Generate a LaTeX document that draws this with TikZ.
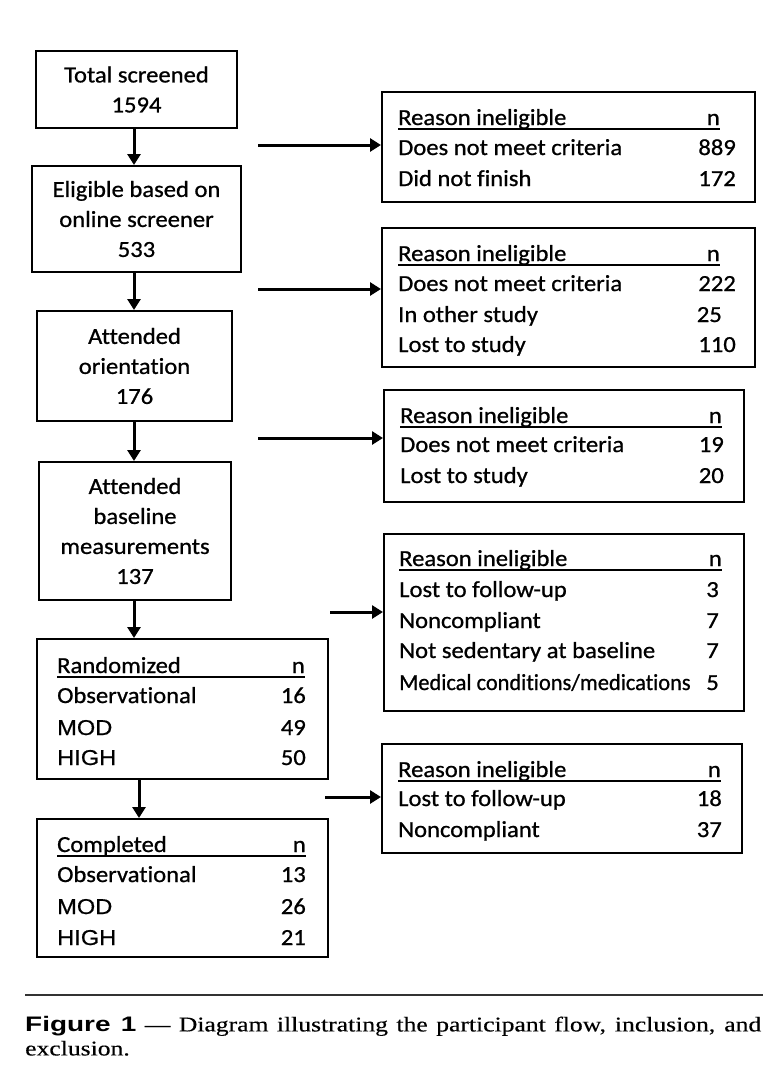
\documentclass[tikz,border=0pt]{standalone}
\usepackage{fontspec}
\setmainfont[FakeStretch=1.07,FakeBold=0.8,Ligatures={NoCommon}]{Carlito}
\newfontfamily\arialf[FakeStretch=1.1,FakeBold=0.6]{Liberation Sans}
\newfontfamily\capsans[FakeStretch=1.33]{Liberation Sans}
\newfontfamily\capserif[FakeStretch=1.22,FakeBold=0.3]{Liberation Serif}
\usetikzlibrary{arrows.meta}
\begin{document}
\begin{tikzpicture}[x=1pt,y=-1pt,
  box/.style={draw,line width=2pt,inner sep=0pt},
  arr/.style={line width=3pt,-{Triangle[width=13pt,length=11pt]}},
  t/.style={inner sep=0pt,font=\fontsize{23}{30}\selectfont},
  tl/.style={t,anchor=base west},
  tr/.style={t,anchor=base east},
  ta/.style={inner sep=0pt,anchor=base west,font=\arialf\fontsize{21.5}{30}\selectfont},
  ul/.style={line width=1.6pt}]
\useasboundingbox (0,0) rectangle (782,1074);

% left column
\node[box,t,align=center,minimum width=201pt,minimum height=77pt] (b1) at (136.5,89.5) {Total screened\\1594};
\node[box,t,align=center,minimum width=209pt,minimum height=106pt] (b2) at (136.5,219) {Eligible based on\\online screener\\533};
\node[box,t,align=center,minimum width=195pt,minimum height=110pt] (b3) at (134.5,366) {Attended\\orientation\\176};
\node[box,t,align=center,minimum width=192pt,minimum height=138pt] (b4) at (135,531) {Attended\\baseline\\measurements\\137};
\node[box,minimum width=291pt,minimum height=140pt] (b5) at (182.5,709) {};
\node[box,minimum width=291pt,minimum height=138pt] (b6) at (182.5,888) {};

% right column
\node[box,minimum width=373pt,minimum height=110pt] (rb1) at (568.5,147) {};
\node[box,minimum width=373pt,minimum height=139pt] (rb2) at (568.5,297.5) {};
\node[box,minimum width=360pt,minimum height=112pt] (rb3) at (564,446) {};
\node[box,minimum width=360pt,minimum height=177pt] (rb4) at (564,622.5) {};
\node[box,minimum width=360pt,minimum height=109pt] (rb5) at (562,798.5) {};

% randomized table
\node[tl] (b5h) at (57,673) {Randomized};
\node[tr] (b5n) at (305,673) {n};
\draw[ul] ([yshift=-4pt]b5h.base west) -- ([yshift=-4pt]b5n.base east);
\node[tl] (b5a) at (57,703) {Observational};
\node[tr] (b5an) at (306,703) {16};
\node[ta] (b5b) at (57,735) {MOD};
\node[tr] (b5bn) at (306,735) {49};
\node[ta] (b5c) at (57,765) {HIGH};
\node[tr] (b5cn) at (306,765) {50};

% completed table
\node[tl] (b6h) at (57,852) {Completed};
\node[tr] (b6n) at (306,852) {n};
\draw[ul] ([yshift=-4pt]b6h.base west) -- ([yshift=-4pt]b6n.base east);
\node[tl] (b6a) at (57,882) {Observational};
\node[tr] (b6an) at (306,882) {13};
\node[ta] (b6b) at (57,914) {MOD};
\node[tr] (b6bn) at (306,914) {26};
\node[ta] (b6c) at (57,945) {HIGH};
\node[tr] (b6cn) at (306,945) {21};

% rb1
\node[tl] (r1h) at (398,125) {Reason ineligible};
\node[tr] (r1n) at (720,125) {n};
\draw[ul] ([yshift=-4pt]r1h.base west) -- ([yshift=-4pt]r1n.base east);
\node[tl] (r1a) at (398,155) {Does not meet criteria};
\node[tr] (r1an) at (736,155) {889};
\node[tl] (r1b) at (398,186) {Did not finish};
\node[tr] (r1bn) at (736,186) {172};

% rb2
\node[tl] (r2h) at (398,261) {Reason ineligible};
\node[tr] (r2n) at (720,261) {n};
\draw[ul] ([yshift=-4pt]r2h.base west) -- ([yshift=-4pt]r2n.base east);
\node[tl] (r2a) at (398,291) {Does not meet criteria};
\node[tr] (r2an) at (736,291) {222};
\node[tl] (r2b) at (398,322) {In other study};
\node[tr] (r2bn) at (722,322) {25};
\node[tl] (r2c) at (398,352) {Lost to study};
\node[tr] (r2cn) at (736,352) {110};

% rb3
\node[tl] (r3h) at (400,423) {Reason ineligible};
\node[tr] (r3n) at (722,423) {n};
\draw[ul] ([yshift=-4pt]r3h.base west) -- ([yshift=-4pt]r3n.base east);
\node[tl] (r3a) at (400,452) {Does not meet criteria};
\node[tr] (r3an) at (724,452) {19};
\node[tl] (r3b) at (400,483) {Lost to study};
\node[tr] (r3bn) at (724,483) {20};

% rb4
\node[tl] (r4h) at (399,566) {Reason ineligible};
\node[tr] (r4n) at (722,566) {n};
\draw[ul] ([yshift=-4pt]r4h.base west) -- ([yshift=-4pt]r4n.base east);
\node[tl] (r4a) at (399,597) {Lost to follow-up};
\node[tr] (r4an) at (719,597) {3};
\node[tl] (r4b) at (399,628) {Noncompliant};
\node[tr] (r4bn) at (719,628) {7};
\node[tl] (r4c) at (399,658) {Not sedentary at baseline};
\node[tr] (r4cn) at (719,658) {7};
\node[tl] (r4d) at (399,690) {\scalebox{0.91}[1]{Medical conditions/medications}};
\node[tr] (r4dn) at (719,690) {5};

% rb5
\node[tl] (r5h) at (398,777) {Reason ineligible};
\node[tr] (r5n) at (721,777) {n};
\draw[ul] ([yshift=-4pt]r5h.base west) -- ([yshift=-4pt]r5n.base east);
\node[tl] (r5a) at (398,806) {Lost to follow-up};
\node[tr] (r5an) at (722,806) {18};
\node[tl] (r5b) at (398,837) {Noncompliant};
\node[tr] (r5bn) at (722,837) {37};

% vertical arrows
\coordinate (c1) at (134,0);
\coordinate (c5) at (139,0);
\draw[arr] (b1.south -| c1) -- (b2.north -| c1);
\draw[arr] (b2.south -| c1) -- (b3.north -| c1);
\draw[arr] (b3.south -| c1) -- (b4.north -| c1);
\draw[arr] (b4.south -| c1) -- (b5.north -| c1);
\draw[arr] (b5.south -| c5) -- (b6.north -| c5);

% horizontal arrows
\coordinate (s1) at (258,145);
\coordinate (s2) at (258,289);
\coordinate (s3) at (258,438);
\coordinate (s4) at (330,612);
\coordinate (s5) at (325,797);
\draw[arr] (s1) -- (s1 -| rb1.west);
\draw[arr] (s2) -- (s2 -| rb2.west);
\draw[arr] (s3) -- (s3 -| rb3.west);
\draw[arr] (s4) -- (s4 -| rb4.west);
\draw[arr] (s5) -- (s5 -| rb5.west);

% caption
\coordinate (rl) at (25,995);
\coordinate (rr) at (763,995);
\draw[line width=2.6pt,black!80] (rl) -- (rr);
\node[anchor=north west,inner sep=0pt,text width=736pt,align=justify,
  font=\capserif\fontsize{21}{24}\selectfont] (cap) at (25,1016)
  {{\capsans\bfseries Figure 1} — Diagram illustrating the participant flow, inclusion, and\linebreak exclusion.};
\end{tikzpicture}
\end{document}
